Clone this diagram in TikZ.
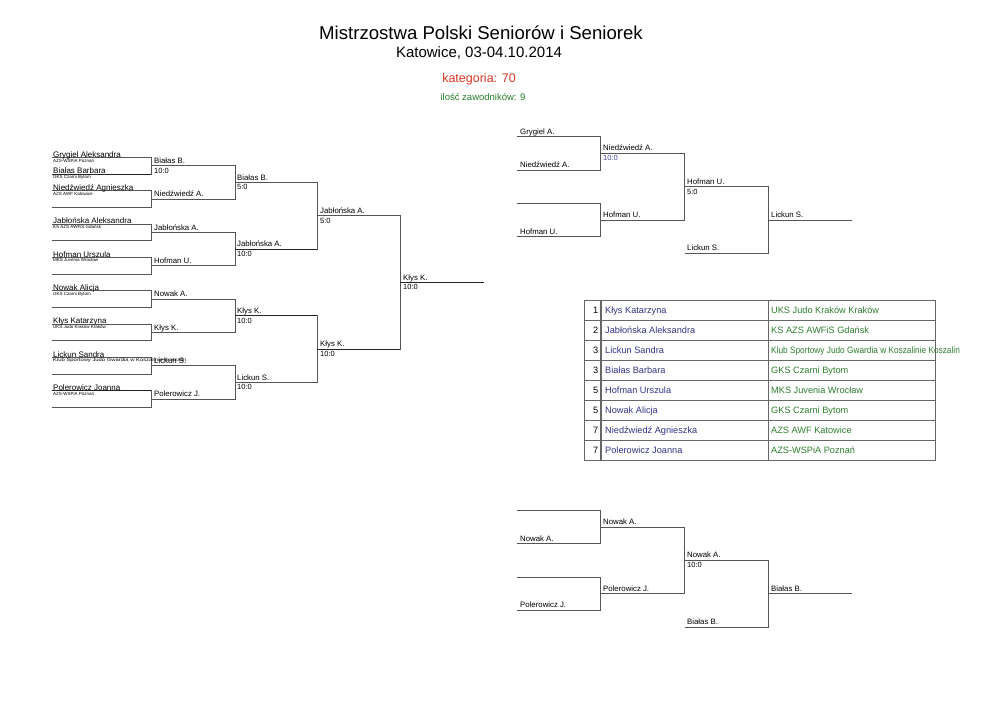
\documentclass[tikz,border=0pt]{standalone}
\usepackage{fontspec}
\setmainfont{Liberation Sans}
\usetikzlibrary{positioning}
\definecolor{linegray}{RGB}{85,85,85}
\definecolor{titlered}{RGB}{215,55,35}
\definecolor{countgreen}{RGB}{40,125,40}
\definecolor{namenavy}{RGB}{50,50,135}
\definecolor{clubgreen}{RGB}{45,125,45}
\definecolor{scoreblue}{RGB}{70,70,170}
\newcommand{\slot}{16.667}

\begin{document}
\begin{tikzpicture}[x=1pt, y=-1pt,
	bline/.style={draw=linegray, line width=0.8pt},
	wline/.style={draw=black!85, line width=1.3pt},
	tline/.style={draw=black!60, line width=1pt},
	entrant/.style={anchor=base west, inner sep=0pt, font=\fontsize{8}{9}\selectfont},
	club/.style={anchor=north west, inner sep=0pt, font=\fontsize{4.5}{5}\selectfont},
	winner/.style={anchor=base west, inner sep=0pt, font=\fontsize{7.8}{9}\selectfont},
	score/.style={anchor=north west, inner sep=0pt, font=\fontsize{7.5}{8}\selectfont},
	cell/.style={anchor=base west, inner sep=0pt, font=\fontsize{9.2}{10}\selectfont}
	]
	\useasboundingbox (0,0) rectangle (992,702);
	% heading
	\node[font=\fontsize{18.6}{20}\selectfont] (title) at (481,33) {Mistrzostwa Polski Seniorów i Seniorek};
	\node[font=\fontsize{15}{16}\selectfont] (place) at (479,53) {Katowice, 03-04.10.2014};
	\node[font=\fontsize{12.5}{14}\selectfont, text=titlered] (cat) at (479,79) {kategoria: 70};
	\node[font=\fontsize{9.5}{11}\selectfont, text=countgreen] (count) at (483,97) {ilość zawodników: 9};
	
	% main bracket
	\foreach \p in {0,...,7}{
		\pgfmathsetmacro{\ya}{157.5+2*\p*\slot}
		\pgfmathsetmacro{\yb}{\ya+\slot}
		\draw[bline] (52,\ya) -- (151,\ya) -- (151,\yb) -- (52,\yb);
	}
	\foreach \p in {0,...,3}{
		\pgfmathsetmacro{\ya}{157.5+(4*\p+0.5)*\slot}
		\pgfmathsetmacro{\yb}{\ya+2*\slot}
		\draw[bline] (151,\ya) -- (235,\ya) -- (235,\yb) -- (151,\yb);
	}
	\foreach \p in {0,1}{
		\pgfmathsetmacro{\ya}{157.5+(8*\p+1.5)*\slot}
		\pgfmathsetmacro{\yb}{\ya+4*\slot}
		\draw[bline] (235,\ya) -- (317,\ya) -- (317,\yb) -- (235,\yb);
	}
	\draw[bline] (317,215.83) -- (400,215.83) -- (400,349.17) -- (317,349.17);
	\foreach \xa/\xb/\pos in {52/151/1, 52/151/14, 235/317/5.5, 235/317/9.5, 317/400/11.5, 400/484/7.5}
	\draw[wline] (\xa,{157.5+\pos*\slot}) -- (\xb,{157.5+\pos*\slot});
	
	\foreach \s/\nm/\cl in {0/Grygiel Aleksandra/AZS-WSPiA Poznań, 1/Białas Barbara/GKS Czarni Bytom,
		2/Niedźwiedź Agnieszka/AZS AWF Katowice, 4/Jabłońska  Aleksandra/KS AZS AWFiS Gdańsk,
		6/Hofman Urszula/MKS Juvenia Wrocław, 8/Nowak Alicja/GKS Czarni Bytom,
		10/Kłys Katarzyna/UKS Judo Kraków Kraków,
		12/Lickun Sandra/{\scalebox{1.3}[1]{Klub Sportowy Judo Gwardia w Koszalinie Koszalin}},
		14/Polerowicz Joanna/AZS-WSPiA Poznań}{
		\node[entrant] (ent\s) at (53,{157.5+\s*\slot-0.5}) {\nm};
		\node[club] (club\s) at (53,{157.5+\s*\slot+1}) {\cl};
	}
	\foreach \x/\pos/\nm/\sc [count=\i] in {154/0.5/Białas B./10:0, 154/2.5/Niedźwiedź A./, 154/4.5/Jabłońska  A./,
		154/6.5/Hofman U./, 154/8.5/Nowak A./, 154/10.5/Kłys K./, 154/12.5/Lickun S./, 154/14.5/Polerowicz J./,
		237/1.5/Białas B./5:0, 237/5.5/Jabłońska  A./10:0, 237/9.5/Kłys K./10:0, 237/13.5/Lickun S./10:0,
		320/3.5/Jabłońska  A./5:0, 320/11.5/Kłys K./10:0, 403/7.5/Kłys K./10:0}{
		\node[winner] (win\i) at (\x,{157.5+\pos*\slot-2.5}) {\nm};
		\node[score] (sc\i) at (\x,{157.5+\pos*\slot+2}) {\sc};
	}
	
	% repechage
	\foreach \b in {136.7,510.3}{
		\foreach \p in {0,1}{
			\pgfmathsetmacro{\ya}{\b+4*\p*\slot}
			\pgfmathsetmacro{\yb}{\ya+2*\slot}
			\draw[bline] (517,\ya) -- (600,\ya) -- (600,\yb) -- (517,\yb);
		}
		\draw[bline] (600,{\b+\slot}) -- (684,{\b+\slot}) -- (684,{\b+5*\slot}) -- (600,{\b+5*\slot});
		\draw[bline] (684,{\b+3*\slot}) -- (768,{\b+3*\slot}) -- (768,{\b+7*\slot}) -- (685,{\b+7*\slot});
		\draw[bline] (768,{\b+5*\slot}) -- (852,{\b+5*\slot});
	}
	\foreach \x/\pos/\nm [count=\i] in {520/0/Grygiel A., 520/2/Niedźwiedź A., 603/1/Niedźwiedź A., 520/6/Hofman U.,
		603/5/Hofman U., 687/3/Hofman U., 687/7/Lickun S., 771/5/Lickun S.}
	\node[winner] (repa\i) at (\x,{136.7+\pos*\slot-2.5}) {\nm};
	\node[score, text=scoreblue] (repasc1) at (603,{136.7+\slot+2}) {10:0};
	\node[score] (repasc2) at (687,{136.7+3*\slot+2}) {5:0};
	\foreach \x/\pos/\nm [count=\i] in {520/2/Nowak A., 603/1/Nowak A., 520/6/Polerowicz J., 603/5/Polerowicz J.,
		687/3/Nowak A., 687/7/Białas B., 771/5/Białas B.}
	\node[winner] (repb\i) at (\x,{510.3+\pos*\slot-2.5}) {\nm};
	\node[score] (repbsc1) at (687,{510.3+3*\slot+2}) {10:0};
	
	% results
	\foreach \r in {1,...,7}
	\draw[tline] (584,300+20*\r) -- (935,300+20*\r);
	\draw[tline] (584,300) rectangle (935,460);
	\draw[tline, line width=1.6pt] (601,300) -- (601,460);
	\draw[tline] (768,300) -- (768,460);
	\foreach \rk/\nm/\cl [count=\i] in {1/Kłys Katarzyna/UKS Judo Kraków Kraków,
		2/Jabłońska  Aleksandra/KS AZS AWFiS Gdańsk,
		3/Lickun Sandra/{\scalebox{0.9}[1]{Klub Sportowy Judo Gwardia w Koszalinie Koszalin}},
		3/Białas Barbara/GKS Czarni Bytom, 5/Hofman Urszula/MKS Juvenia Wrocław,
		5/Nowak Alicja/GKS Czarni Bytom, 7/Niedźwiedź Agnieszka/AZS AWF Katowice,
		7/Polerowicz Joanna/AZS-WSPiA Poznań}{
		\node[cell, anchor=base east] (rank\i) at (598.5,{293.5+20*\i}) {\rk};
		\node[cell, text=namenavy] (name\i) at (605,{293.5+20*\i}) {\nm};
		\node[cell, text=clubgreen] (team\i) at (771,{293.5+20*\i}) {\cl};
	}
\end{tikzpicture}
\end{document}
